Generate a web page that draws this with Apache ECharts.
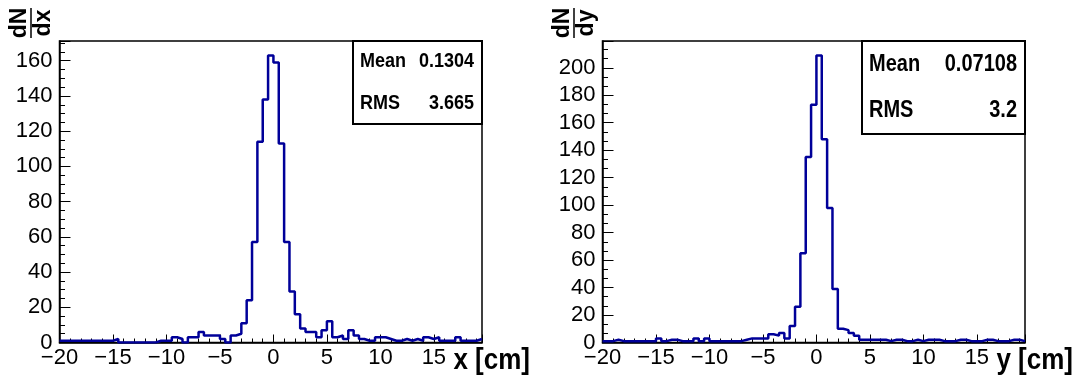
<!DOCTYPE html>
<html><head><meta charset="utf-8">
<script src="https://cdn.jsdelivr.net/npm/echarts@6/dist/echarts.min.js"></script>
<style>html,body{margin:0;padding:0;background:#fff}#c{width:1084px;height:380px}</style>
</head><body><div id="c"></div>
<script>
// ---- data ----
const binLow = -20, binWidth = 0.5, binCount = 79;
const binEdges = Array.from({length: binCount + 1}, (_, i) => binLow + binWidth * i);
const xCounts = [1,1,1,1,1,1,1,1,1,1, 2,0,0,0,0,0,0,0,1,1, 1,3,2,0,3,3,6,4,4,4,
  2,0,4,5,11,24,57,114,138,163, 159,113,57,29,16,8,6,6,3,7, 12,3,4,2,7,4,2,1,1,3,
  3,2,1,1,2,1,2,1,3,2, 3,1,1,1,3,1,1,1,2];
const yCounts = [1,1,2,1,1,1,1,1,1,1, 3,1,2,2,1,1,1,3,1,3, 1,1,1,1,1,1,2,3,3,3,
  3,6,5,7,3,12,26,65,135,173, 209,148,98,39,10,9,7,5,2,2, 2,2,2,1,2,2,1,1,2,1,
  2,2,2,1,1,1,2,2,1,1, 1,2,2,1,1,1,2,2,1];
const xTickMajor = 5, xTickMinor = 1;
const yTickMajor = 20, yTickMinorLeft = 5, yTickMinorRight = 20 / 3;
const yMaxLeft = 171.2, yMaxRight = 219.5;
const statsLeft = [['Mean', '0.1304'], ['RMS', '3.665']];
const statsRight = [['Mean', '0.07108'], ['RMS', '3.2']];
const xTitles = ['x [cm]', 'y [cm]'];
const yTitles = [['dN', 'dx'], ['dN', 'dy']];

// ---- layout ----
const FONT = '"Liberation Sans", Arial, Helvetica, sans-serif';
const G = [{left: 59.5, top: 41, width: 422.5, height: 301.5},
           {left: 602.5, top: 41, width: 422.5, height: 301.5}];
const xMax = binLow + binWidth * binCount;

function histData(counts) {
  const d = counts.map((c, i) => [binEdges[i], c]);
  d.push([binEdges[binCount], counts[binCount - 1]]);
  return d;
}
const minus = s => String(s).replace('-', '\u2212');

function xAxes(gi) {
  return [{
    type: 'value', gridIndex: gi, position: 'bottom', min: binLow, max: xMax, interval: xTickMajor,
    axisLine: {show: true, onZero: false, lineStyle: {color: '#000', width: 1.5}},
    axisTick: {show: true, inside: true, length: 8, lineStyle: {color: '#000', width: 1}},
    axisLabel: {show: true, margin: 4, color: '#000', fontFamily: FONT, fontSize: 22,
      formatter: v => (Math.abs(v % 5) < 1e-9 && v < xMax) ? minus(v) : ''},
    splitLine: {show: false}
  }, {
    type: 'value', gridIndex: gi, position: 'bottom', min: binLow, max: xMax, interval: xTickMinor,
    axisLine: {show: false, onZero: false},
    axisTick: {show: true, inside: true, length: 4, lineStyle: {color: '#000', width: 1}},
    axisLabel: {show: false}, splitLine: {show: false}
  }];
}
function yAxes(gi, max, minor) {
  return [{
    type: 'value', gridIndex: gi, position: 'left', min: 0, max: max, interval: yTickMajor,
    axisLine: {show: true, onZero: false, lineStyle: {color: '#000', width: 1.5}},
    axisTick: {show: true, inside: true, length: 11, lineStyle: {color: '#000', width: 1}},
    axisLabel: {show: true, margin: 7, color: '#000', fontFamily: FONT, fontSize: 22,
      formatter: v => (Math.abs(v % 20) < 1e-9) ? String(v) : ''},
    splitLine: {show: false}
  }, {
    type: 'value', gridIndex: gi, position: 'left', min: 0, max: max, interval: minor,
    axisLine: {show: false, onZero: false},
    axisTick: {show: true, inside: true, length: 5.5, lineStyle: {color: '#000', width: 1}},
    axisLabel: {show: false}, splitLine: {show: false}
  }];
}

function txt(x, y, text, font, align, sy) {
  return {type: 'text', x: x, y: y, scaleY: sy || 1.1, z: 101,
    style: {text: text, x: 0, y: 0, fill: '#000', font: font, textAlign: align, textVerticalAlign: 'middle'}};
}
function statsBox(x, y, w, h, rows, fs) {
  const els = [{type: 'rect', shape: {x: x, y: y, width: w, height: h},
    style: {fill: '#fff', stroke: '#000', lineWidth: 2}, z: 100}];
  rows.forEach((r, i) => {
    const cy = y + h * (i * 2 + 1) / 4;
    els.push(txt(x + 7, cy, r[0], 'bold ' + fs + 'px ' + FONT, 'left', 1.15));
    els.push(txt(x + w - 8, cy, r[1], 'bold ' + fs + 'px ' + FONT, 'right', 1.15));
  });
  return els;
}
function fracTitle(cx, cy, t) {
  return {type: 'group', x: cx, y: cy, rotation: Math.PI / 2, children: [
    {type: 'text', style: {text: t[0], x: 0, y: -11, fill: '#000', font: 'bold 23px ' + FONT,
      textAlign: 'center', textVerticalAlign: 'middle'}},
    {type: 'line', shape: {x1: -15, y1: 0, x2: 15, y2: 0}, style: {stroke: '#000', lineWidth: 1.5}},
    {type: 'text', style: {text: t[1], x: 0, y: 12.5, fill: '#000', font: 'bold 23px ' + FONT,
      textAlign: 'center', textVerticalAlign: 'middle'}}
  ]};
}

const chart = echarts.init(document.getElementById('c'), null, {renderer: 'canvas'});
chart.setOption({
  animation: false,
  backgroundColor: '#fff',
  grid: G.map(g => Object.assign({show: true, borderColor: '#000', borderWidth: 1.5,
    backgroundColor: 'transparent', containLabel: false}, g)),
  xAxis: [...xAxes(0), ...xAxes(1)],
  yAxis: [...yAxes(0, yMaxLeft, yTickMinorLeft), ...yAxes(1, yMaxRight, yTickMinorRight)],
  series: [
    {type: 'line', xAxisIndex: 0, yAxisIndex: 0, step: 'end', symbol: 'none', data: histData(xCounts),
      lineStyle: {color: '#000099', width: 2.5}, z: 5},
    {type: 'line', xAxisIndex: 2, yAxisIndex: 2, step: 'end', symbol: 'none', data: histData(yCounts),
      lineStyle: {color: '#000099', width: 2.5}, z: 5}
  ],
  graphic: [
    ...statsBox(353, 41, 129, 83, statsLeft, 18),
    ...statsBox(862, 41, 163, 93, statsRight, 20),
    txt(530, 361, xTitles[0], 'bold 26px ' + FONT, 'right', 1.12),
    txt(1073, 361, xTitles[1], 'bold 26px ' + FONT, 'right', 1.12),
    fracTitle(31, 23, yTitles[0]),
    fracTitle(574, 23, yTitles[1])
  ]
});
</script></body></html>
